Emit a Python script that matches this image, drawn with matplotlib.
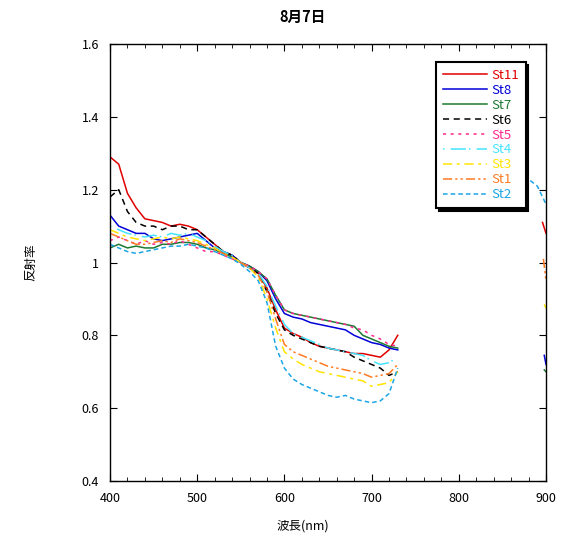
import matplotlib
matplotlib.use("Agg")
import matplotlib.pyplot as plt
from matplotlib.ticker import MultipleLocator, FuncFormatter

plt.rcParams['font.family'] = ['Noto Sans CJK JP', 'DejaVu Sans']

title = "8月7日"
xlabel = "波長(nm)"
ylabel = "反射率"

wavelength = [400, 410, 420, 430, 440, 450, 460, 470, 480, 490, 500, 510, 520, 530, 540, 550,
              560, 570, 580, 590, 600, 610, 620, 630, 640, 650, 660, 670, 680, 690, 700, 710, 720, 730]

st11 = [1.29, 1.27, 1.19, 1.15, 1.12, 1.115, 1.11, 1.10, 1.105, 1.10, 1.09, 1.07, 1.05, 1.03, 1.02, 1.00,
        0.985, 0.97, 0.93, 0.87, 0.82, 0.805, 0.795, 0.78, 0.77, 0.765, 0.76, 0.755, 0.75, 0.75, 0.745, 0.74, 0.76, 0.80]
st8 = [1.13, 1.10, 1.09, 1.08, 1.08, 1.065, 1.06, 1.065, 1.07, 1.075, 1.08, 1.06, 1.04, 1.03, 1.02, 1.00,
       0.99, 0.975, 0.95, 0.90, 0.86, 0.85, 0.845, 0.835, 0.83, 0.825, 0.82, 0.815, 0.80, 0.79, 0.78, 0.775, 0.765, 0.76]
st7 = [1.04, 1.05, 1.04, 1.045, 1.04, 1.04, 1.05, 1.05, 1.055, 1.055, 1.05, 1.04, 1.035, 1.025, 1.015, 1.00,
       0.99, 0.975, 0.955, 0.91, 0.87, 0.86, 0.855, 0.85, 0.845, 0.84, 0.835, 0.83, 0.825, 0.80, 0.79, 0.78, 0.77, 0.765]
st6 = [1.18, 1.20, 1.14, 1.11, 1.10, 1.10, 1.09, 1.10, 1.10, 1.09, 1.09, 1.07, 1.05, 1.03, 1.02, 1.00,
       0.985, 0.97, 0.92, 0.86, 0.815, 0.80, 0.79, 0.78, 0.77, 0.765, 0.76, 0.755, 0.74, 0.73, 0.72, 0.71, 0.69, 0.70]
st5 = [1.06, 1.07, 1.06, 1.05, 1.06, 1.05, 1.055, 1.05, 1.06, 1.05, 1.04, 1.03, 1.03, 1.02, 1.01, 1.00,
       0.99, 0.975, 0.955, 0.91, 0.87, 0.86, 0.855, 0.85, 0.845, 0.84, 0.835, 0.83, 0.82, 0.815, 0.80, 0.79, 0.775, 0.77]
st4 = [1.10, 1.09, 1.08, 1.075, 1.07, 1.075, 1.07, 1.08, 1.075, 1.08, 1.07, 1.06, 1.045, 1.03, 1.02, 1.00,
       0.985, 0.97, 0.935, 0.88, 0.83, 0.805, 0.795, 0.785, 0.775, 0.765, 0.76, 0.755, 0.75, 0.745, 0.73, 0.72, 0.725, 0.74]
st3 = [1.09, 1.08, 1.07, 1.065, 1.06, 1.065, 1.07, 1.065, 1.07, 1.065, 1.06, 1.05, 1.04, 1.025, 1.015, 1.00,
       0.985, 0.96, 0.90, 0.82, 0.755, 0.735, 0.72, 0.71, 0.70, 0.695, 0.69, 0.685, 0.68, 0.675, 0.66, 0.665, 0.67, 0.70]
st1 = [1.08, 1.07, 1.06, 1.05, 1.05, 1.055, 1.06, 1.055, 1.065, 1.06, 1.055, 1.045, 1.035, 1.025, 1.01, 1.00,
       0.985, 0.965, 0.92, 0.845, 0.775, 0.755, 0.745, 0.735, 0.725, 0.715, 0.71, 0.705, 0.70, 0.695, 0.685, 0.69, 0.695, 0.72]
st2 = [1.05, 1.04, 1.03, 1.025, 1.03, 1.035, 1.04, 1.045, 1.045, 1.05, 1.045, 1.04, 1.03, 1.02, 1.01, 0.995,
       0.975, 0.95, 0.89, 0.77, 0.71, 0.68, 0.665, 0.655, 0.645, 0.635, 0.63, 0.635, 0.625, 0.62, 0.615, 0.62, 0.64, 0.71]

# short fragments near the right edge
tail_wl_st2 = [882, 890, 900]
tail_st2 = [1.225, 1.21, 1.16]
tail_wl_st11 = [896, 900]
tail_st11 = [1.11, 1.08]
tail_wl_st1 = [897, 900]
tail_st1 = [1.01, 0.95]
tail_wl_st3 = [898, 900]
tail_st3 = [0.885, 0.875]
tail_wl_st8 = [898, 900]
tail_st8 = [0.745, 0.72]
tail_wl_st7 = [898, 900]
tail_st7 = [0.705, 0.70]

labels = ["St11", "St8", "St7", "St6", "St5", "St4", "St3", "St1", "St2"]
colors = ["#e00000", "#0000d8", "#1e7a32", "#000000", "#ff2a90", "#44e4ff", "#ffe400", "#ff7a22", "#1aa6e6"]
styles = ["-", "-", "-", (0, (4, 3)), (0, (2, 3)), (0, (1, 4, 10, 2)), (0, (6, 3, 2, 3)), (0, (6, 2, 1.5, 2, 1.5, 2)), (0, (3, 2))]
series = [st11, st8, st7, st6, st5, st4, st3, st1, st2]
tails = {"St11": (tail_wl_st11, tail_st11), "St8": (tail_wl_st8, tail_st8), "St7": (tail_wl_st7, tail_st7),
         "St3": (tail_wl_st3, tail_st3), "St1": (tail_wl_st1, tail_st1), "St2": (tail_wl_st2, tail_st2)}

fig = plt.figure(figsize=(5.62, 5.33), dpi=100)
ax = fig.add_axes([110/562, 1-481/533, 436/562, 437/533])

for lab, col, ls, vals in zip(labels, colors, styles, series):
    ax.plot(wavelength, vals, color=col, linestyle=ls, linewidth=1.1, label=lab)
    if lab in tails:
        tw, tv = tails[lab]
        ax.plot(tw, tv, color=col, linestyle=ls, linewidth=1.1)

ax.set_xlim(400, 900)
ax.set_ylim(0.4, 1.6)
ax.xaxis.set_major_locator(MultipleLocator(100))
ax.xaxis.set_minor_locator(MultipleLocator(20))
ax.yaxis.set_major_locator(MultipleLocator(0.2))
ax.yaxis.set_major_formatter(FuncFormatter(lambda v, p: f"{v:.1f}".rstrip('0').rstrip('.')))
ax.tick_params(axis='x', which='major', direction='in', length=5, top=True, labelsize=9, pad=8)
ax.tick_params(axis='x', which='minor', direction='in', length=3, top=True)
ax.tick_params(axis='y', which='major', direction='in', length=5, right=True, labelsize=9, pad=8)
for s in ax.spines.values():
    s.set_linewidth(1.0)

fig.text(303/562, 1-17/533, title, ha='center', va='center', fontsize=10.5, fontweight='bold')
fig.text(303/562, 1-526/533, xlabel, ha='center', va='center', fontsize=9)
fig.text(31/562, 1-262/533, ylabel, ha='center', va='center', fontsize=9, rotation=90)

leg = ax.legend(loc='upper left', bbox_to_anchor=((436-110)/436, 1-(62-44)/437), frameon=True,
                fancybox=False, shadow={'color': 'black', 'alpha': 1.0}, fontsize=9.5,
                handlelength=3.4, handletextpad=0.3, labelspacing=0.15, borderpad=0.5,
                borderaxespad=0)
leg.get_frame().set_edgecolor('black')
leg.get_frame().set_linewidth(1.5)
for txt, col in zip(leg.get_texts(), colors):
    txt.set_color(col)

fig.savefig("out.png", dpi=100)
